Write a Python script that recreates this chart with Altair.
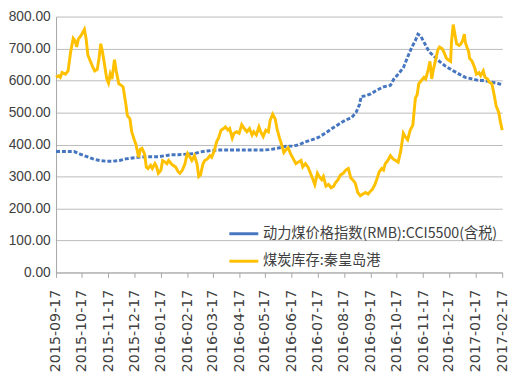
import altair as alt
import pandas as pd

tick_dates = ["2015-09-17", "2015-10-17", "2015-11-17", "2015-12-17", "2016-01-17",
              "2016-02-17", "2016-03-17", "2016-04-17", "2016-05-17", "2016-06-17",
              "2016-07-17", "2016-08-17", "2016-09-17", "2016-10-17", "2016-11-17",
              "2016-12-17", "2017-01-17", "2017-02-17"]
y_ticks = [0, 100, 200, 300, 400, 500, 600, 700, 800]

price_name = "动力煤价格指数(RMB):CCI5500(含税)"
stock_name = "煤炭库存:秦皇岛港"
price_color = "#4676BF"
stock_color = "#FFC000"

price_dates = ["2015-09-17", "2015-09-30", "2015-10-08", "2015-10-15", "2015-10-23", "2015-10-30",
               "2015-11-07", "2015-11-14", "2015-11-22", "2015-11-30", "2015-12-07", "2015-12-15",
               "2015-12-22", "2015-12-30", "2016-01-06", "2016-01-14", "2016-01-22", "2016-01-29",
               "2016-02-06", "2016-02-17", "2016-02-25", "2016-03-03", "2016-03-11", "2016-03-19",
               "2016-03-27", "2016-04-11", "2016-04-30", "2016-05-15", "2016-05-22", "2016-05-30",
               "2016-06-03", "2016-06-11", "2016-06-19", "2016-06-26", "2016-07-03", "2016-07-11",
               "2016-07-18", "2016-07-26", "2016-08-03", "2016-08-10", "2016-08-18", "2016-08-26",
               "2016-08-31", "2016-09-04", "2016-09-06", "2016-09-11", "2016-09-17", "2016-09-23",
               "2016-09-28", "2016-10-02", "2016-10-10", "2016-10-14", "2016-10-19", "2016-10-25",
               "2016-10-31", "2016-11-04", "2016-11-08", "2016-11-11", "2016-11-14", "2016-11-17",
               "2016-11-21", "2016-11-24", "2016-11-30", "2016-12-06", "2016-12-13", "2016-12-21",
               "2016-12-29", "2017-01-05", "2017-01-13", "2017-01-21", "2017-01-28", "2017-02-05",
               "2017-02-13", "2017-02-17"]
price_values = [378, 378, 378, 370, 362, 355,
                350, 348, 348, 350, 355, 358,
                360, 362, 362, 362, 365, 368,
                368, 370, 372, 377, 380, 382,
                383, 383, 383, 383, 384, 387,
                390, 395, 395, 400, 408, 415,
                422, 435, 450, 462, 475, 485,
                500, 525, 550, 552, 558, 568,
                575, 580, 585, 605, 620, 640,
                680, 705, 725, 745, 740, 725,
                705, 690, 675, 660, 645, 632,
                620, 610, 605, 600, 600, 595,
                590, 587]

stock_dates = ["2015-09-17", "2015-09-20", "2015-09-22", "2015-09-24", "2015-09-28", "2015-10-01",
               "2015-10-04", "2015-10-07", "2015-10-09", "2015-10-11", "2015-10-13", "2015-10-16",
               "2015-10-18", "2015-10-20", "2015-10-22", "2015-10-24", "2015-10-27", "2015-10-30",
               "2015-11-01", "2015-11-04", "2015-11-06", "2015-11-08", "2015-11-10", "2015-11-13",
               "2015-11-15", "2015-11-17", "2015-11-19", "2015-11-21", "2015-11-24", "2015-11-26",
               "2015-11-29", "2015-12-02", "2015-12-04", "2015-12-07", "2015-12-09", "2015-12-12",
               "2015-12-14", "2015-12-17", "2015-12-19", "2015-12-22", "2015-12-24", "2015-12-26",
               "2015-12-29", "2015-12-31", "2016-01-02", "2016-01-05", "2016-01-07", "2016-01-10",
               "2016-01-12", "2016-01-14", "2016-01-17", "2016-01-19", "2016-01-22", "2016-01-24",
               "2016-01-26", "2016-01-29", "2016-01-31", "2016-02-03", "2016-02-06", "2016-02-08",
               "2016-02-11", "2016-02-14", "2016-02-16", "2016-02-17", "2016-02-20", "2016-02-22",
               "2016-02-25", "2016-02-28", "2016-03-01", "2016-03-03", "2016-03-06", "2016-03-08",
               "2016-03-11", "2016-03-14", "2016-03-16", "2016-03-19", "2016-03-22", "2016-03-24",
               "2016-03-27", "2016-03-30", "2016-04-01", "2016-04-04", "2016-04-06", "2016-04-09",
               "2016-04-11", "2016-04-14", "2016-04-17", "2016-04-20", "2016-04-23", "2016-04-26",
               "2016-04-29", "2016-05-02", "2016-05-04", "2016-05-07", "2016-05-10", "2016-05-12",
               "2016-05-15", "2016-05-18", "2016-05-21", "2016-05-23", "2016-05-26", "2016-05-29",
               "2016-05-31", "2016-06-03", "2016-06-06", "2016-06-08", "2016-06-11", "2016-06-13",
               "2016-06-16", "2016-06-19", "2016-06-22", "2016-06-25", "2016-06-28", "2016-06-30",
               "2016-07-03", "2016-07-06", "2016-07-09", "2016-07-12", "2016-07-14", "2016-07-17",
               "2016-07-19", "2016-07-22", "2016-07-24", "2016-07-27", "2016-07-30", "2016-08-02",
               "2016-08-05", "2016-08-07", "2016-08-10", "2016-08-13", "2016-08-16", "2016-08-19",
               "2016-08-22", "2016-08-25", "2016-08-27", "2016-08-30", "2016-09-02", "2016-09-05",
               "2016-09-08", "2016-09-11", "2016-09-14", "2016-09-17", "2016-09-19", "2016-09-22",
               "2016-09-24", "2016-09-27", "2016-09-30", "2016-10-02", "2016-10-04", "2016-10-07",
               "2016-10-10", "2016-10-13", "2016-10-16", "2016-10-19", "2016-10-22", "2016-10-25",
               "2016-10-27", "2016-10-30", "2016-11-02", "2016-11-05", "2016-11-08", "2016-11-10",
               "2016-11-12", "2016-11-15", "2016-11-18", "2016-11-20", "2016-11-23", "2016-11-25",
               "2016-11-27", "2016-11-29", "2016-12-02", "2016-12-04", "2016-12-06", "2016-12-09",
               "2016-12-11", "2016-12-14", "2016-12-16", "2016-12-19", "2016-12-20", "2016-12-22",
               "2016-12-24", "2016-12-26", "2016-12-29", "2016-12-31", "2017-01-02", "2017-01-04",
               "2017-01-05", "2017-01-09", "2017-01-10", "2017-01-13", "2017-01-16", "2017-01-18",
               "2017-01-21", "2017-01-23", "2017-01-26", "2017-01-28", "2017-01-31", "2017-02-02",
               "2017-02-05", "2017-02-08", "2017-02-10", "2017-02-13", "2017-02-15", "2017-02-17"]
stock_values = [610, 615, 610, 625, 620, 630,
                690, 732, 725, 705, 730, 740,
                750, 760, 730, 680, 660, 640,
                630, 635, 670, 715, 690, 640,
                605, 592, 620, 605, 665, 630,
                590, 585, 580, 530, 490, 480,
                440, 415, 400, 360, 385, 388,
                370, 330, 325, 335, 325, 340,
                330, 310, 320, 350, 345, 340,
                350, 340, 335, 330, 315, 310,
                320, 340, 365, 372, 360, 350,
                365, 340, 300, 305, 340, 350,
                355, 365, 360, 380, 410, 420,
                445, 450, 455, 445, 450, 420,
                435, 440, 435, 462, 450, 440,
                450, 430, 440, 430, 455, 440,
                425, 445, 440, 475, 495, 480,
                450, 420, 395, 375, 385, 390,
                370, 355, 340, 345, 350, 330,
                340, 330, 310, 290, 275, 310,
                300, 290, 300, 270, 275, 265,
                270, 280, 290, 305, 310, 320,
                325, 295, 290, 280, 250, 240,
                245, 250, 245, 255, 260, 275,
                290, 315, 325, 320, 340, 350,
                365, 355, 350, 345, 380, 435,
                425, 415, 445, 460, 545, 555,
                590, 600, 610, 605, 635, 660,
                605, 635, 670, 695, 705, 700,
                690, 670, 665, 660, 720, 775,
                745, 715, 710, 715, 725, 745,
                720, 690, 670, 660, 640, 620,
                625, 615, 630, 610, 605, 595,
                590, 550, 520, 500, 470, 445]

price_df = pd.DataFrame({"date": price_dates, "value": price_values, "series": price_name})
stock_df = pd.DataFrame({"date": stock_dates, "value": stock_values, "series": stock_name})

tick_ms = [int(pd.Timestamp(d).value // 10**6) for d in tick_dates]

x_enc = alt.X("date:T",
              scale=alt.Scale(type="utc", domain=[tick_ms[0], tick_ms[-1]], nice=False),
              axis=alt.Axis(values=tick_ms, labelExpr="utcFormat(datum.value, '%Y-%m-%d')",
                            labelAngle=-90,
                            title=None, grid=False, ticks=True, tickSize=5, tickColor="#A6A6A6",
                            domainColor="#A6A6A6", labelFont="DejaVu Sans", labelFontSize=14.5,
                            labelColor="#404040", labelPadding=12, labelOverlap=False))
y_enc = alt.Y("value:Q",
              scale=alt.Scale(domain=[0, 800], nice=False),
              axis=alt.Axis(values=y_ticks, format=".2f", title=None, grid=True,
                            gridColor="#BBBBBB", gridWidth=1, ticks=False,
                            domainColor="#A6A6A6", labelFont="Liberation Sans", labelFontSize=14,
                            labelColor="#404040", labelPadding=6))

price_line = alt.Chart(price_df).mark_line(strokeWidth=3, strokeDash=[4, 2], color=price_color).encode(
    x=x_enc, y=y_enc,
)

stock_line = alt.Chart(stock_df).mark_line(strokeWidth=3).encode(
    x=x_enc, y=y_enc,
    color=alt.Color("series:N",
                    scale=alt.Scale(domain=[price_name, stock_name], range=[price_color, stock_color]),
                    legend=alt.Legend(title=None, orient="none", legendX=175, legendY=205,
                                      symbolType="stroke", symbolSize=870, symbolStrokeWidth=3,
                                      labelFont="Noto Sans CJK SC", labelFontSize=14.5,
                                      labelColor="#404040", labelOffset=3, rowPadding=5,
                                      padding=0, labelLimit=400)),
)

chart = alt.layer(price_line, stock_line).properties(
    width=455,
    height=261,
    autosize=alt.AutoSizeParams(type="none"),
    padding={"left": 49, "top": 5, "right": 10, "bottom": 110},
).configure_view(stroke=None)

chart.save("out.html", embed_options={"renderer": "svg", "actions": False})
